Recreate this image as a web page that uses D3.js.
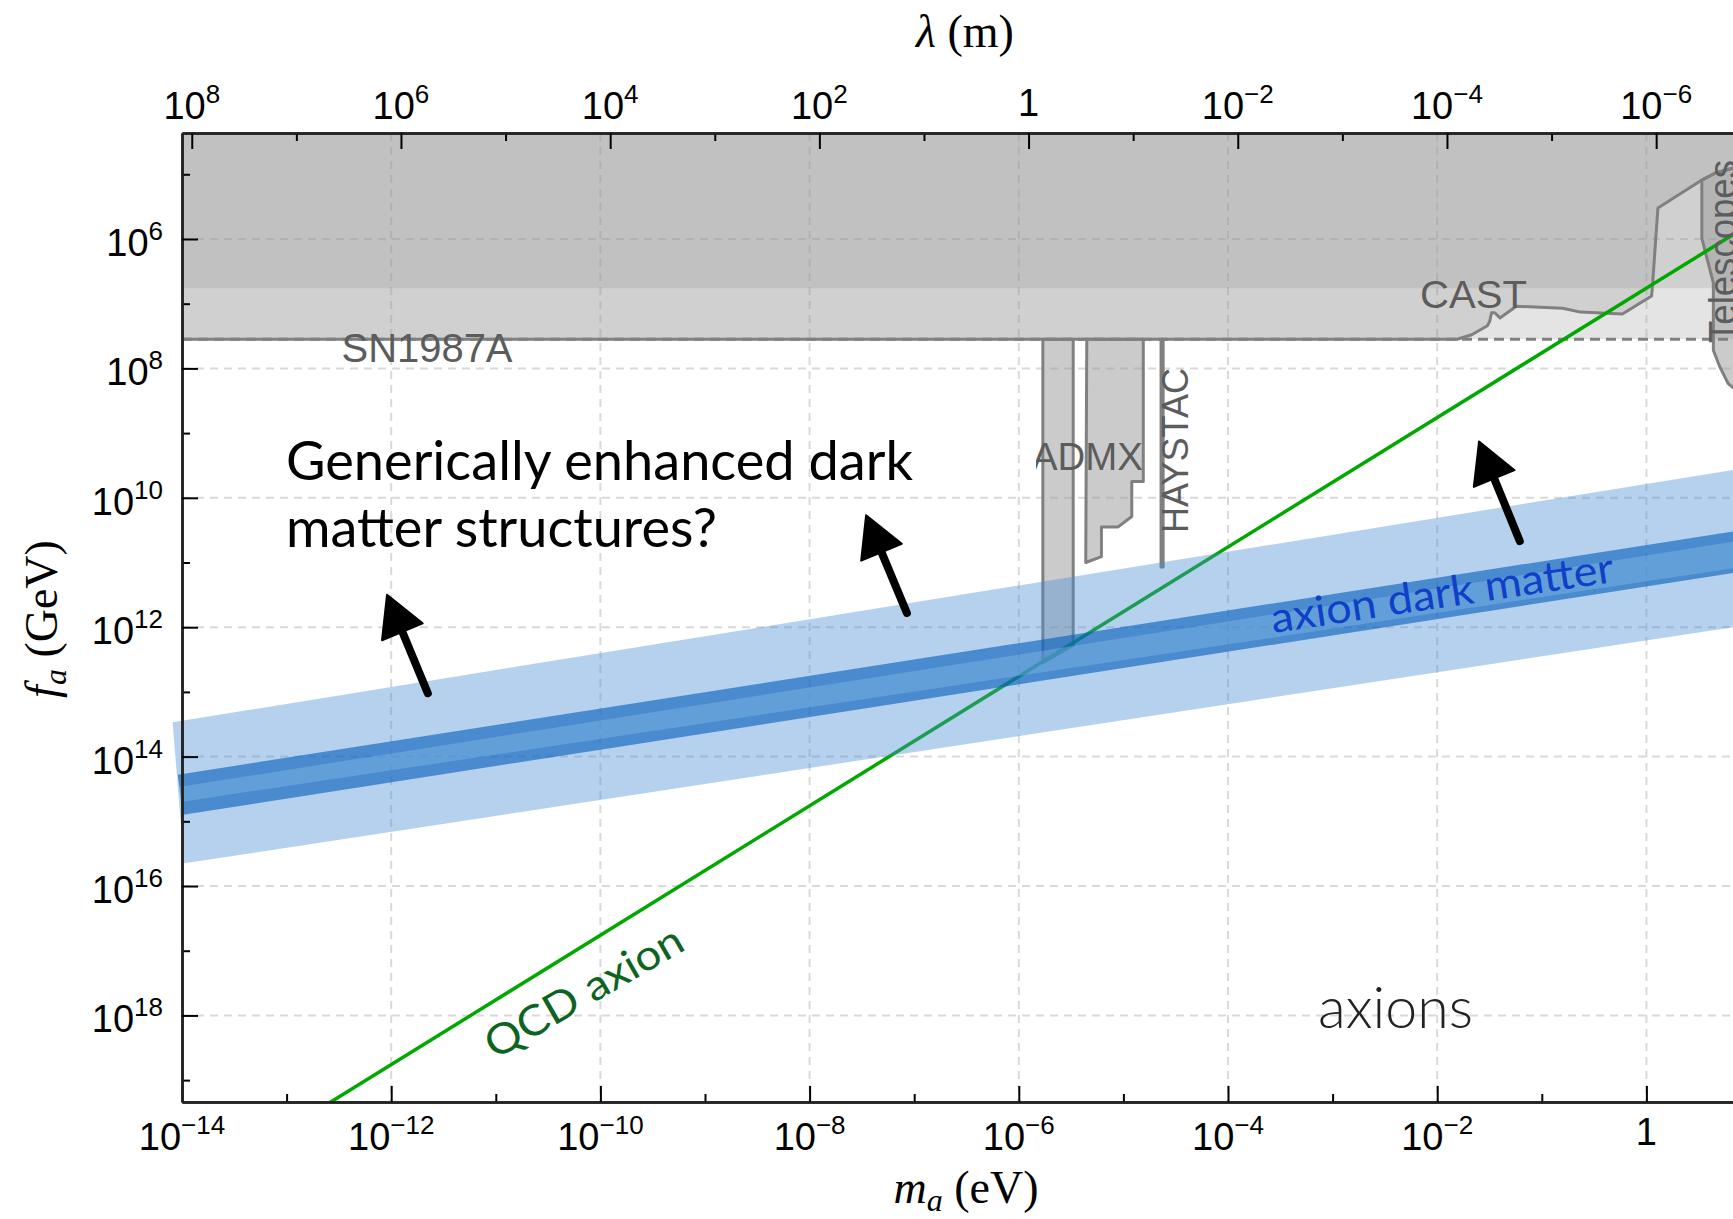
<!DOCTYPE html>
<html>
<head>
<meta charset="utf-8">
<script src="https://cdn.jsdelivr.net/npm/d3@7"></script>
<style>
  body { margin: 0; background: #fff; }
  svg { display: block; }
  .tick-label { font-family: "Liberation Sans", Arial, Helvetica, sans-serif; fill: #000; }
  .axis-title { font-family: "Liberation Serif", "Times New Roman", serif; fill: #000; }
  .region-label { font-family: "Liberation Sans", Arial, Helvetica, sans-serif; fill: #5c5c5c; }
  .note { font-family: Lato, "Open Sans", sans-serif; }
</style>
</head>
<body>
<div id="chart"></div>
<script>
const W = 1733
const H = 1219

// every point is [log10(m_a / eV), log10(f_a / GeV)]
const qcdAxion = [[-14, 20.76], [1.5, 5.26]]
const stellarLimit = 6.76
const sn1987aLimit = 7.55
const castLimit = [
  [-14, 7.55], [-1.81, 7.55], [-1.67, 7.48], [-1.52, 7.34], [-1.50, 7.28], [-1.48, 7.14],
  [-1.45, 7.14], [-1.40, 7.22], [-1.27, 7.07], [-1.24, 7.04], [-0.80, 7.07], [-0.63, 7.13],
  [-0.23, 7.16], [0.05, 6.88], [0.06, 6.68], [0.11, 5.52], [0.53, 5.09], [0.66, 4.98],
  [0.95, 4.85],
]
const telescopes = [
  [0.53, 5.09], [0.66, 4.98], [0.95, 4.85], [0.95, 8.45], [0.83, 8.30], [0.78, 8.23],
  [0.70, 7.97], [0.64, 7.72], [0.64, 6.68], [0.53, 5.99],
]
const admxLow = [[-5.77, 7.55], [-5.48, 7.55], [-5.48, 12.28], [-5.77, 12.55]]
const admxHigh = [
  [-5.35, 7.55], [-4.81, 7.55], [-4.81, 9.75], [-4.92, 9.75], [-4.92, 10.29],
  [-5.05, 10.45], [-5.21, 10.45], [-5.21, 10.91], [-5.36, 11.00],
]
const haystac = [[-4.64, 7.55], [-4.62, 7.55], [-4.62, 11.07], [-4.64, 11.07]]

// axion dark matter bands: upper and lower edges
const wideBandTop = [[-14.09, 13.47], [0.83, 9.57], [1.5, 9.39]]
const wideBandBottom = [[-13.98, 15.65], [0.83, 12.00], [1.5, 11.83]]
const coreBandTop = [[-14.04, 14.28], [0.83, 10.52], [1.5, 10.35]]
const coreBandBottom = [[-13.99, 14.90], [0.83, 11.16], [1.5, 10.99]]
const innerBandTop = [[-14.03, 14.47], [0.83, 10.68], [1.5, 10.51]]
const innerBandBottom = [[-14.01, 14.70], [0.83, 11.09], [1.5, 10.92]]

const arrows = [
  { from: [-11.65, 13.02], to: [-12.04, 11.50] },
  { from: [-7.07, 11.78], to: [-7.46, 10.27] },
  { from: [-1.21, 10.67], to: [-1.60, 9.13] },
]

// tick exponents
const massTicks = [-14, -12, -10, -8, -6, -4, -2, 0]
const massMinor = [-13, -11, -9, -7, -5, -3, -1, 1]
const faTicks = [6, 8, 10, 12, 14, 16, 18]
const faMinor = [5, 7, 9, 11, 13, 15, 17, 19]
const lambdaTicks = [8, 6, 4, 2, 0, -2, -4, -6]
const lambdaMinor = [7, 5, 3, 1, -1, -3, -5, -7]
const HC = 1.2398e-6 // eV * m

const plotL = 182, plotT = 133, plotB = 1102
const x = d3.scaleLog().domain([1e-14, 10 ** 1.5]).range([plotL, 1803.3])
const y = d3.scaleLog().domain([10 ** 4.362, 10 ** 19.338]).range([plotT, plotB])
const lam = d3.scaleLog().domain([HC / 1e-14, HC / 10 ** 1.5]).range([plotL, 1803.3])
const plotR = x.range()[1]

const px = d => x(10 ** d[0])
const py = d => y(10 ** d[1])
const closed = d3.line().x(px).y(py).curve(d3.curveLinearClosed)
const open = d3.line().x(px).y(py)
const band = (t, b) => closed(t.concat(b.slice().reverse()))

const svg = d3.select('#chart').append('svg').attr('width', W).attr('height', H)
const defs = svg.append('defs')
defs.append('clipPath').attr('id', 'plot-clip')
  .append('rect').attr('x', plotL).attr('y', plotT).attr('width', plotR - plotL).attr('height', plotB - plotT)
defs.append('clipPath').attr('id', 'band-clip')
  .append('rect').attr('x', 150).attr('y', plotT).attr('width', plotR - 150).attr('height', plotB - plotT)
defs.append('clipPath').attr('id', 'admx-clip')
  .append('rect').attr('x', 1036).attr('y', 400).attr('width', 200).attr('height', 100)

// grid
const grid = svg.append('g').attr('clip-path', 'url(#plot-clip)')
  .attr('stroke', '#d9d9d9').attr('stroke-width', 2).attr('stroke-dasharray', '8,6')
grid.selectAll('.gx').data(massTicks.slice(1)).enter().append('line')
  .attr('x1', d => x(10 ** d)).attr('x2', d => x(10 ** d)).attr('y1', plotT).attr('y2', plotB)
grid.selectAll('.gy').data(faTicks).enter().append('line')
  .attr('x1', plotL).attr('x2', plotR).attr('y1', d => y(10 ** d)).attr('y2', d => y(10 ** d))

// excluded regions
const regions = svg.append('g').attr('clip-path', 'url(#plot-clip)')
const grey = '#979797'
regions.append('rect')
  .attr('x', plotL).attr('y', plotT).attr('width', plotR - plotL)
  .attr('height', y(10 ** sn1987aLimit) - plotT)
  .attr('fill', grey).attr('fill-opacity', 0.26)
regions.append('rect')
  .attr('x', plotL).attr('y', plotT).attr('width', plotR - plotL)
  .attr('height', y(10 ** stellarLimit) - plotT)
  .attr('fill', grey).attr('fill-opacity', 0.26)
regions.append('path')
  .attr('d', d3.area().x(px).y0(plotT).y1(py)(castLimit))
  .attr('fill', grey).attr('fill-opacity', 0.26)
regions.append('path').attr('d', closed(telescopes))
  .attr('fill', grey).attr('fill-opacity', 0.5)
  .attr('stroke', '#808080').attr('stroke-width', 3)
;[admxLow, admxHigh, haystac].forEach(r => {
  regions.append('path').attr('d', closed(r))
    .attr('fill', grey).attr('fill-opacity', 0.5)
    .attr('stroke', '#808080').attr('stroke-width', 3).attr('stroke-linejoin', 'round')
})
regions.append('line')
  .attr('x1', plotL).attr('x2', plotR)
  .attr('y1', y(10 ** sn1987aLimit)).attr('y2', y(10 ** sn1987aLimit))
  .attr('stroke', '#808080').attr('stroke-width', 3).attr('stroke-dasharray', '10,6')
regions.append('path').attr('d', open(castLimit))
  .attr('fill', 'none').attr('stroke', '#808080').attr('stroke-width', 3).attr('stroke-linejoin', 'round')

// QCD axion line
svg.append('path').attr('clip-path', 'url(#plot-clip)')
  .attr('d', open(qcdAxion))
  .attr('fill', 'none').attr('stroke', '#00a800').attr('stroke-width', 3.5)

// dark matter bands
const bands = svg.append('g').attr('clip-path', 'url(#band-clip)')
bands.append('path').attr('d', band(wideBandTop, wideBandBottom))
  .attr('fill', '#468cd2').attr('fill-opacity', 0.4)
bands.append('path').attr('d', band(coreBandTop, coreBandBottom))
  .attr('fill', '#035cbd').attr('fill-opacity', 0.6)
bands.append('path').attr('d', band(innerBandTop, innerBandBottom))
  .attr('fill', '#8cbee6').attr('fill-opacity', 0.38)

// region labels
const labels = svg.append('g').attr('class', 'region-label')
labels.append('text').attr('x', 341.5).attr('y', 362).attr('font-size', 40)
  .attr('textLength', 171).attr('lengthAdjust', 'spacingAndGlyphs').text('SN1987A')
labels.append('text').attr('x', 1420).attr('y', 308).attr('font-size', 38)
  .attr('textLength', 107).attr('lengthAdjust', 'spacingAndGlyphs').text('CAST')
labels.append('text').attr('clip-path', 'url(#admx-clip)')
  .attr('x', 1032).attr('y', 470).attr('font-size', 38)
  .attr('textLength', 111).attr('lengthAdjust', 'spacingAndGlyphs').text('ADMX')
labels.append('text').attr('transform', 'translate(1188,533) rotate(-90)').attr('font-size', 36)
  .attr('textLength', 165).attr('lengthAdjust', 'spacingAndGlyphs').text('HAYSTAC')
labels.append('text').attr('transform', 'translate(1736,343) rotate(-90)').attr('font-size', 38)
  .attr('textLength', 183).attr('lengthAdjust', 'spacingAndGlyphs').text('Telescopes')

// axes
function styleAxis(g) {
  g.selectAll('path.domain').attr('stroke', '#222').attr('stroke-width', 2.5)
  g.selectAll('.tick line').attr('stroke', '#000').attr('stroke-width', 2)
  g.selectAll('.tick text').remove()
}
function axis(gen, vals, size, tx, ty, scale) {
  const g = svg.append('g').attr('transform', `translate(${tx},${ty})`)
  g.call(gen(scale).tickValues(vals).tickSizeInner(-size).tickSizeOuter(0).tickFormat(''))
  styleAxis(g)
  return g
}
const p10 = k => 10 ** k
axis(d3.axisBottom, massMinor.map(p10), 8, 0, plotB, x)
axis(d3.axisBottom, massTicks.map(p10), 16, 0, plotB, x)
axis(d3.axisLeft, faMinor.map(p10), 8, plotL, 0, y)
axis(d3.axisLeft, faTicks.map(p10), 16, plotL, 0, y)
axis(d3.axisTop, lambdaMinor.map(p10), 8, 0, plotT, lam)
axis(d3.axisTop, lambdaTicks.map(p10), 16, 0, plotT, lam)

function powLabel(k, lx, ly, anchor, oneY) {
  const t = svg.append('text').attr('class', 'tick-label')
    .attr('x', lx).attr('y', k === 0 ? oneY : ly).attr('text-anchor', anchor).attr('font-size', 38)
  if (k === 0) { t.text('1'); return }
  t.append('tspan').text('10')
  t.append('tspan').attr('dy', -16).attr('font-size', 26).text(k < 0 ? '\u2212' + (-k) : String(k))
}
massTicks.forEach(k => powLabel(k, x(10 ** k), 1150, 'middle', 1145))
faTicks.forEach(k => powLabel(k, 163, y(10 ** k) + 17, 'end'))
lambdaTicks.forEach(k => powLabel(k, lam(10 ** k), 119, 'middle', 116))

// axis titles
const tTop = svg.append('text').attr('class', 'axis-title').attr('x', 965).attr('y', 47)
  .attr('text-anchor', 'middle').attr('font-size', 46)
tTop.append('tspan').attr('font-style', 'italic').text('\u03bb')
tTop.append('tspan').text(' (m)')
const tBot = svg.append('text').attr('class', 'axis-title').attr('x', 966).attr('y', 1203)
  .attr('text-anchor', 'middle').attr('font-size', 46)
tBot.append('tspan').attr('font-style', 'italic').text('m')
tBot.append('tspan').attr('font-style', 'italic').attr('font-size', 32).attr('dy', 8).text('a')
tBot.append('tspan').attr('dy', -8).text(' (eV)')
const tLeft = svg.append('text').attr('class', 'axis-title')
  .attr('transform', 'translate(57,619) rotate(-90)')
  .attr('text-anchor', 'middle').attr('font-size', 46)
tLeft.append('tspan').attr('font-style', 'italic').text('f')
tLeft.append('tspan').attr('font-style', 'italic').attr('font-size', 32).attr('dy', 9).text('a')
tLeft.append('tspan').attr('dy', -9).text(' (GeV)')

// annotations
const notes = svg.append('g').attr('class', 'note')
notes.append('text').attr('x', 286).attr('y', 480).attr('font-size', 54).attr('fill', '#000')
  .attr('textLength', 627).attr('lengthAdjust', 'spacingAndGlyphs').text('Generically enhanced dark')
notes.append('text').attr('x', 286).attr('y', 547).attr('font-size', 54).attr('fill', '#000')
  .attr('textLength', 431).attr('lengthAdjust', 'spacingAndGlyphs').text('matter structures?')
notes.append('text').attr('transform', 'translate(1273,633) rotate(-8.5)')
  .attr('font-size', 42).attr('fill', '#1040c8')
  .attr('textLength', 346).attr('lengthAdjust', 'spacingAndGlyphs').text('axion dark matter')
notes.append('text').attr('transform', 'translate(495,1060) rotate(-30)')
  .attr('font-size', 42).attr('fill', '#0c6420')
  .attr('textLength', 222).attr('lengthAdjust', 'spacingAndGlyphs').text('QCD axion')
notes.append('text').attr('x', 1318).attr('y', 1028).attr('font-size', 58).attr('font-weight', 300)
  .attr('fill', '#222')
  .attr('textLength', 155).attr('lengthAdjust', 'spacingAndGlyphs').text('axions')

arrows.forEach(a => {
  const tx = px(a.from), ty = py(a.from)
  const hx = px(a.to), hy = py(a.to)
  const len = Math.hypot(hx - tx, hy - ty)
  const ux = (hx - tx) / len, uy = (hy - ty) / len
  const bx = hx - ux * 40, by = hy - uy * 40
  notes.append('line')
    .attr('x1', tx).attr('y1', ty).attr('x2', bx + ux * 6).attr('y2', by + uy * 6)
    .attr('stroke', '#000').attr('stroke-width', 8).attr('stroke-linecap', 'round')
  notes.append('path')
    .attr('d', `M${hx},${hy}L${bx - uy * 22},${by + ux * 22}L${bx + uy * 22},${by - ux * 22}Z`)
    .attr('fill', '#000').attr('stroke', '#000').attr('stroke-width', 2).attr('stroke-linejoin', 'round')
})
</script>
</body>
</html>
